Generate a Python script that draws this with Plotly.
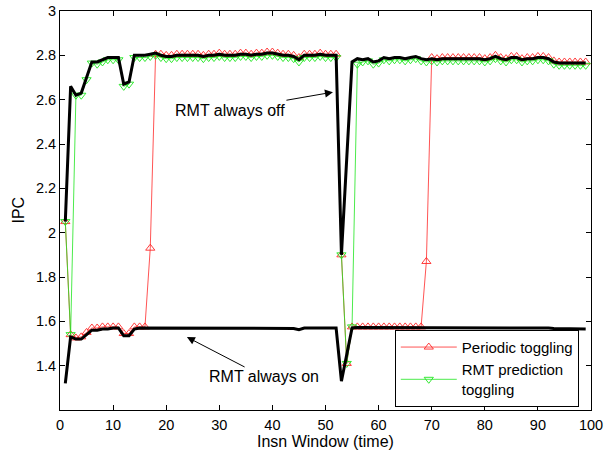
import plotly.graph_objects as go

x = list(range(1, 100))

rmt_off = [2.05, 2.66, 2.62, 2.63, 2.70, 2.77, 2.77, 2.78, 2.79, 2.79,
           2.79, 2.67, 2.68, 2.80, 2.80, 2.80, 2.805, 2.81, 2.80, 2.795,
           2.795, 2.80, 2.80, 2.80, 2.80, 2.80, 2.795, 2.80, 2.80, 2.805,
           2.80, 2.80, 2.80, 2.805, 2.805, 2.80, 2.805, 2.805, 2.81, 2.81,
           2.805, 2.80, 2.80, 2.795, 2.78, 2.80, 2.80, 2.80, 2.805, 2.80,
           2.80, 2.80, 1.90, 2.35, 2.77, 2.785, 2.78, 2.785, 2.77, 2.775,
           2.79, 2.785, 2.79, 2.79, 2.785, 2.79, 2.795, 2.785, 2.78, 2.785,
           2.78, 2.785, 2.785, 2.785, 2.785, 2.785, 2.785, 2.785, 2.785, 2.78,
           2.785, 2.795, 2.785, 2.78, 2.79, 2.79, 2.78, 2.785, 2.785, 2.79,
           2.79, 2.785, 2.77, 2.765, 2.765, 2.765, 2.765, 2.765, 2.765]

rmt_on = [1.32, 1.53, 1.52, 1.52, 1.54, 1.56, 1.56, 1.565, 1.565, 1.57,
          1.57, 1.535, 1.535, 1.565, 1.57, 1.57, 1.57, 1.57, 1.57, 1.57,
          1.568, 1.57, 1.57, 1.57, 1.57, 1.57, 1.57, 1.57, 1.57, 1.57,
          1.57, 1.57, 1.57, 1.57, 1.57, 1.57, 1.57, 1.57, 1.57, 1.57,
          1.57, 1.57, 1.57, 1.568, 1.562, 1.57, 1.57, 1.57, 1.57, 1.57,
          1.57, 1.57, 1.33, 1.45, 1.57, 1.572, 1.572, 1.572, 1.572, 1.572,
          1.572, 1.572, 1.572, 1.572, 1.572, 1.572, 1.572, 1.572, 1.57, 1.57,
          1.57, 1.57, 1.57, 1.57, 1.57, 1.57, 1.57, 1.57, 1.57, 1.57,
          1.57, 1.57, 1.57, 1.57, 1.57, 1.57, 1.57, 1.57, 1.57, 1.57,
          1.57, 1.57, 1.568, 1.568, 1.568, 1.568, 1.566, 1.565, 1.565]

periodic = [2.05, 1.54, 1.525, 1.53, 1.55, 1.57, 1.57, 1.575, 1.575, 1.575,
            1.575, 1.545, 1.545, 1.575, 1.575, 1.575, 1.93, 2.805, 2.805, 2.80,
            2.80, 2.805, 2.805, 2.805, 2.805, 2.805, 2.80, 2.805, 2.805, 2.81,
            2.805, 2.805, 2.805, 2.81, 2.81, 2.805, 2.81, 2.81, 2.815, 2.815,
            2.81, 2.805, 2.805, 2.80, 2.79, 2.805, 2.805, 2.805, 2.81, 2.805,
            2.805, 2.805, 1.90, 1.41, 1.575, 1.575, 1.575, 1.575, 1.575, 1.575,
            1.575, 1.575, 1.575, 1.575, 1.575, 1.575, 1.575, 1.575, 1.87, 2.79,
            2.785, 2.79, 2.79, 2.79, 2.79, 2.79, 2.79, 2.79, 2.79, 2.785,
            2.79, 2.80, 2.79, 2.785, 2.795, 2.795, 2.785, 2.79, 2.79, 2.795,
            2.795, 2.79, 2.775, 2.77, 2.77, 2.77, 2.77, 2.77, 2.77]

rmt_pred = [2.05, 1.54, 2.62, 2.62, 2.69, 2.765, 2.76, 2.77, 2.78, 2.78,
            2.78, 2.66, 2.67, 2.79, 2.79, 2.79, 2.795, 2.80, 2.79, 2.785,
            2.785, 2.79, 2.79, 2.79, 2.79, 2.79, 2.785, 2.79, 2.79, 2.795,
            2.79, 2.79, 2.79, 2.795, 2.795, 2.79, 2.795, 2.795, 2.80, 2.80,
            2.795, 2.79, 2.79, 2.785, 2.77, 2.79, 2.79, 2.79, 2.795, 2.79,
            2.79, 2.79, 1.90, 1.41, 1.575, 2.76, 2.77, 2.775, 2.76, 2.765,
            2.78, 2.775, 2.78, 2.78, 2.775, 2.78, 2.785, 2.775, 2.77, 2.775,
            2.77, 2.775, 2.775, 2.775, 2.775, 2.775, 2.775, 2.775, 2.775, 2.77,
            2.775, 2.785, 2.775, 2.77, 2.78, 2.78, 2.77, 2.775, 2.775, 2.78,
            2.78, 2.775, 2.76, 2.755, 2.755, 2.755, 2.755, 2.755, 2.755]

x_ticks = [0, 10, 20, 30, 40, 50, 60, 70, 80, 90, 100]
y_ticks = [1.4, 1.6, 1.8, 2.0, 2.2, 2.4, 2.6, 2.8, 3.0]
y_tick_labels = ["1.4", "1.6", "1.8", "2", "2.2", "2.4", "2.6", "2.8", "3"]

FONT = "Liberation Sans, Arial, Helvetica, sans-serif"
RED = "rgb(255,40,40)"
GREEN = "rgb(30,230,30)"

fig = go.Figure()
fig.add_trace(go.Scatter(
    x=x, y=periodic, mode="lines+markers", name="Periodic toggling",
    line=dict(color=RED, width=0.8),
    marker=dict(symbol="triangle-up-open", size=8, color=RED,
                line=dict(width=0.9, color=RED))))
fig.add_trace(go.Scatter(
    x=x, y=rmt_pred, mode="lines+markers", name="RMT prediction<br>toggling",
    line=dict(color=GREEN, width=0.8),
    marker=dict(symbol="triangle-down-open", size=8, color=GREEN,
                line=dict(width=0.9, color=GREEN))))
fig.add_trace(go.Scatter(
    x=x, y=rmt_off, mode="lines", name="RMT always off", showlegend=False,
    line=dict(color="black", width=3)))
fig.add_trace(go.Scatter(
    x=x, y=rmt_on, mode="lines", name="RMT always on", showlegend=False,
    line=dict(color="black", width=3)))

fig.add_annotation(x=51.4, y=2.634, ax=32.0, ay=2.553, axref="x", ayref="y",
                   text="RMT always off", showarrow=True, arrowhead=2,
                   arrowsize=1.6, arrowwidth=1, arrowcolor="black",
                   font=dict(family=FONT, size=16, color="black"))
fig.add_annotation(x=23.9, y=1.529, ax=38.4, ay=1.349, axref="x", ayref="y",
                   text="RMT always on", showarrow=True, arrowhead=2,
                   arrowsize=1.6, arrowwidth=1, arrowcolor="black",
                   font=dict(family=FONT, size=16, color="black"))
# axis titles as paper annotations for exact placement
fig.add_annotation(x=0.5, y=-0.0785, xref="paper", yref="paper",
                   xanchor="center", yanchor="middle", showarrow=False,
                   text="Insn Window (time)",
                   font=dict(family=FONT, size=16, color="black"))
fig.add_annotation(x=-0.079, y=0.5, xref="paper", yref="paper",
                   xanchor="center", yanchor="middle", showarrow=False,
                   text="IPC", textangle=-90,
                   font=dict(family=FONT, size=16, color="black"))

axis_common = dict(showline=True, linecolor="black", linewidth=1, mirror="ticks",
                   ticks="inside", ticklen=5, tickcolor="black", showgrid=False,
                   zeroline=False, automargin=False, ticklabeloverflow="allow",
                   tickfont=dict(family=FONT, size=14.5, color="black"))

fig.update_xaxes(range=[0, 100], tickvals=x_ticks, ticklabelstandoff=2,
                 **axis_common)
fig.update_yaxes(range=[1.2, 3.0], tickvals=y_ticks, ticktext=y_tick_labels,
                 **axis_common)

fig.update_layout(
    width=605, height=456,
    margin=dict(l=60, r=14, t=11, b=46),
    plot_bgcolor="white", paper_bgcolor="white",
    font=dict(family=FONT, size=16, color="black"),
    legend=dict(x=0.977, y=0.008, xanchor="right", yanchor="bottom",
                bordercolor="black", borderwidth=1, bgcolor="white",
                font=dict(family=FONT, size=15, color="black"),
                itemwidth=56, tracegroupgap=0),
)

# remove the default 8px page margin so the figure sits at the window's corner
fig.write_html("out.html",
               config={"displayModeBar": False},
               post_script="document.body.style.margin='0px';")
